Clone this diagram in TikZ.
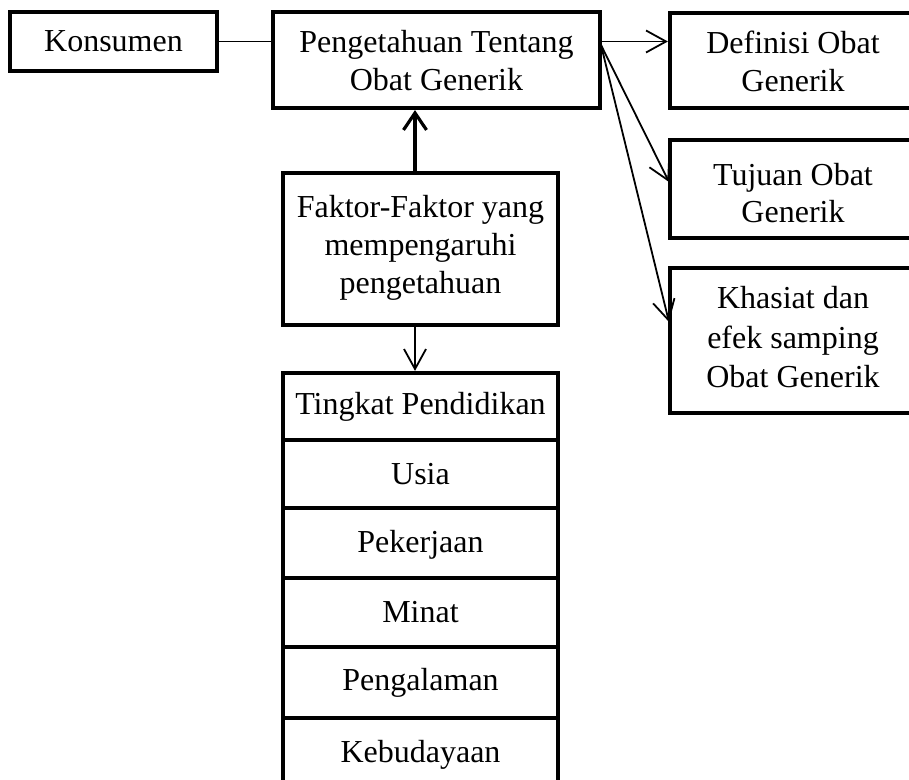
\documentclass[tikz,border=0pt]{standalone}
\usepackage{fontspec}
\setmainfont{Liberation Serif}
\usetikzlibrary{arrows.meta,calc}
\begin{document}
\begin{tikzpicture}[x=0.5pt,y=-0.5pt,
  box/.style={draw,line width=2.1pt,inner sep=0pt},
  txt/.style={inner sep=0pt,align=center,font=\fontsize{16}{#1}\selectfont},
  txt/.default=18.5,
  conn/.style={line width=0.9pt},
  tip/.style={-{Straight Barb[length=10pt,width=11pt,line width=0.9pt]}}]
\useasboundingbox (0,0) rectangle (909,780);
\clip (0,0) rectangle (909,780);
% boxes
\node[box,minimum width=103.5pt,minimum height=29.5pt] (kon) at (113.5,41.5) {};
\node[box,minimum width=163.5pt,minimum height=48pt] (peng) at (436.5,60) {};
\node[box,minimum width=123pt,minimum height=47.5pt] (def) at (793,60.5) {};
\node[box,minimum width=123pt,minimum height=49pt] (tuj) at (793,189) {};
\node[box,minimum width=123pt,minimum height=72.5pt] (kha) at (793,340.5) {};
\node[box,minimum width=137.5pt,minimum height=76pt] (fak) at (420.5,249) {};
\node[box,minimum width=137.5pt,minimum height=33.5pt] (s1) at (420.5,406.5) {};
\node[box,minimum width=137.5pt,minimum height=34pt] (s2) at (420.5,474) {};
\node[box,minimum width=137.5pt,minimum height=35pt] (s3) at (420.5,543) {};
\node[box,minimum width=137.5pt,minimum height=34.5pt] (s4) at (420.5,612.5) {};
\node[box,minimum width=137.5pt,minimum height=35.5pt] (s5) at (420.5,682.5) {};
\node[box,minimum width=137.5pt,minimum height=36pt] (s6) at (420.5,754) {};
% texts
\node[txt] (konT) at (kon.center) {Konsumen};
\node[txt=19] (pengT) at ($(peng.center)+(0,1)$) {Pengetahuan Tentang\\Obat Generik};
\node[txt=19] (defT) at ($(def.center)+(0,0.5)$) {Definisi Obat\\Generik};
\node[txt=18.5] (tujT) at ($(tuj.center)+(0,4.5)$) {Tujuan Obat\\Generik};
\node[txt=19.75] (khaT) at ($(kha.center)+(0,-3)$) {Khasiat dan\\efek samping\\Obat Generik};
\node[txt=19] (fakT) at ($(fak.center)+(0,-1.5)$) {Faktor-Faktor yang\\mempengaruhi\\pengetahuan};
\node[txt] (s1T) at (s1.center) {Tingkat Pendidikan};
\node[txt] (s2T) at (s2.center) {Usia};
\node[txt] (s3T) at ($(s3.center)+(0,1.5)$) {Pekerjaan};
\node[txt] (s4T) at (s4.center) {Minat};
\node[txt] (s5T) at ($(s5.center)+(0,0.5)$) {Pengalaman};
\node[txt] (s6T) at ($(s6.center)+(0,0.5)$) {Kebudayaan};
% connectors
\coordinate (ds) at (601,45);
\coordinate (te) at (669,182);
\coordinate (ke) at (669,322);
\draw[conn] (kon.east) -- (peng.west |- kon.east);
\draw[conn,tip] (peng.east |- kon.east) -- (def.west |- kon.east);
\draw[conn,tip] (ds) -- (te);
\draw[conn,tip] (ds) -- (ke);
\draw[line width=1.6pt,-{Straight Barb[length=8.5pt,width=11.5pt,line width=1.6pt]}] ($(fak.north)+(-2.75pt,0)$) -- ($(peng.south)+(-10.75pt,0)$);
\draw[conn,tip] ($(fak.south)+(-2.75pt,0)$) -- ($(s1.north)+(-2.75pt,0)$);
\end{tikzpicture}
\end{document}
